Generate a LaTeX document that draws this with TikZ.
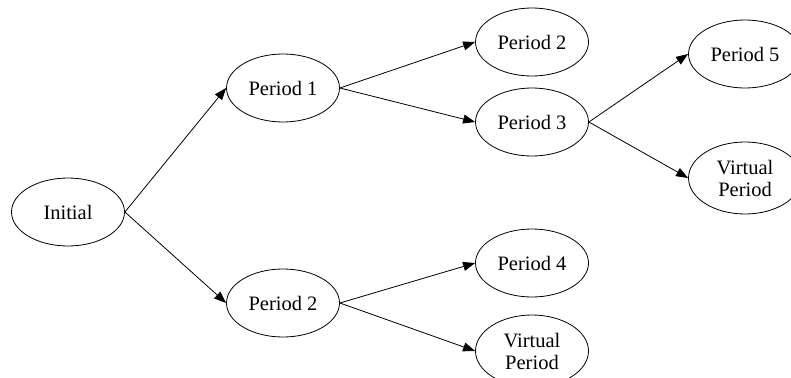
\documentclass[tikz,border=0pt]{standalone}
\usepackage{fontspec}
\setmainfont{Liberation Serif}
\usetikzlibrary{shapes.geometric,arrows.meta}
\begin{document}
\begin{tikzpicture}[x=1pt,y=1pt,
  st/.style={ellipse,draw,line width=0.8pt,inner sep=0pt,minimum width=113pt,minimum height=68pt,
    font=\fontsize{20.5pt}{22pt}\selectfont,align=center},
  st2/.style={st,minimum height=72pt},
  edge/.style={line width=0.8pt,-{Triangle[length=12pt,width=9pt]}}]
\useasboundingbox (0,0) rectangle (791,-377);
\clip (0,0) rectangle (791,-377);
\node[st] (init) at (68,-212) {Initial};
\node[st] (p1) at (283,-88) {Period 1};
\node[st] (p2l) at (283,-303) {Period 2};
\node[st] (p2t) at (532,-42) {Period 2};
\node[st] (p3) at (532,-122) {Period 3};
\node[st] (p4) at (532,-263) {Period 4};
\node[st2] (vpb) at (532,-351) {Virtual\\Period};
\node[st] (p5) at (745,-54) {Period 5};
\node[st2] (vpr) at (745,-178) {Virtual\\Period};
\draw[edge] (init.east) -- (p1.west);
\draw[edge] (init.east) -- (p2l.west);
\draw[edge] (p1.east) -- (p2t.west);
\draw[edge] (p1.east) -- (p3.west);
\draw[edge] (p3.east) -- (p5.west);
\draw[edge] (p3.east) -- (vpr.west);
\draw[edge] (p2l.east) -- (p4.west);
\draw[edge] (p2l.east) -- (vpb.west);
\end{tikzpicture}
\end{document}
